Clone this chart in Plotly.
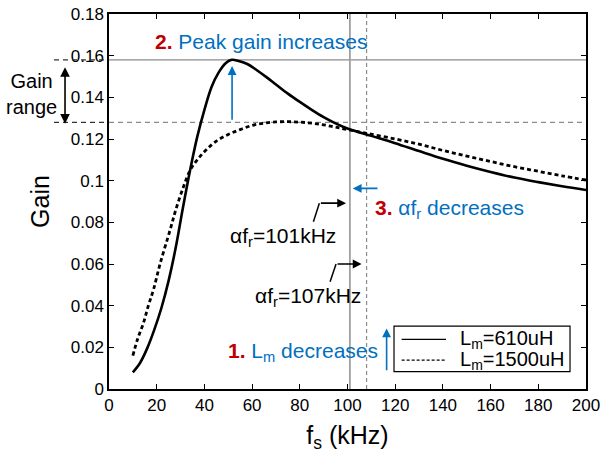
import plotly.graph_objects as go

# ---- data ----
fs_610 = [10, 13, 16, 19, 22, 25, 28, 31, 34, 37, 40, 43, 46, 49, 51.5, 54, 58, 62, 66, 70,
          75, 80, 85, 90, 95, 100, 110, 120, 130, 140, 150, 160, 170, 180, 190, 200]
gain_610 = [0.008, 0.0125, 0.0195, 0.0285, 0.039, 0.052, 0.068, 0.087, 0.105, 0.121, 0.134,
            0.145, 0.152, 0.1565, 0.158, 0.1576, 0.156, 0.153, 0.1497, 0.1462, 0.1418,
            0.1378, 0.134, 0.1305, 0.1275, 0.125, 0.1215, 0.118, 0.1142, 0.1105, 0.1072,
            0.1042, 0.1015, 0.0993, 0.0973, 0.0955]
fs_1500 = [10, 12, 14.4, 16.5, 18.6, 21.4, 25.6, 28, 31.2, 34, 37, 40.7, 45, 50, 55, 60, 65,
           70, 75, 80, 85, 90, 95, 100, 108, 120, 130, 140, 150, 160, 170, 180, 190, 200]
gain_1500 = [0.016, 0.024, 0.0315, 0.040, 0.0475, 0.060, 0.0763, 0.086, 0.097, 0.105, 0.110,
             0.1147, 0.119, 0.1222, 0.1245, 0.1265, 0.1276, 0.1282, 0.1283, 0.1281, 0.1276,
             0.1268, 0.1257, 0.1245, 0.1227, 0.1200, 0.1175, 0.1145, 0.1118, 0.1092, 0.1067,
             0.1045, 0.1023, 0.1003]
series_names = ["L<sub>m</sub>=610uH", "L<sub>m</sub>=1500uH"]
peak_gains = [0.158, 0.128]
alpha_fr = [101, 108]
alpha_fr_labels = ["αf<sub>r</sub>=101kHz", "αf<sub>r</sub>=107kHz"]
x_ticks = list(range(0, 201, 20))
y_ticks = [0, 0.02, 0.04, 0.06, 0.08, 0.1, 0.12, 0.14, 0.16, 0.18]
y_tick_text = ["0", "0.02", "0.04", "0.06", "0.08", "0.1", "0.12", "0.14", "0.16", "0.18"]

FONT = "Liberation Sans, Arial, sans-serif"
BLUE = "#0070C0"
RED = "#C00000"
GREY = "#8c8c8c"

fig = go.Figure()
fig.add_trace(go.Scatter(x=fs_610, y=gain_610, mode="lines", line=dict(color="black", width=2.6, shape="spline"),
                         name=series_names[0], showlegend=False))
fig.add_trace(go.Scatter(x=fs_1500, y=gain_1500, mode="lines",
                         line=dict(color="black", width=2.8, dash="4px,3px", shape="spline"),
                         name=series_names[1], showlegend=False))

shapes = []
# reference lines inside plot
shapes.append(dict(type="line", xref="x", yref="y", x0=0, x1=200, y0=peak_gains[0], y1=peak_gains[0],
                   line=dict(color=GREY, width=1.3), layer="below"))
shapes.append(dict(type="line", xref="x", yref="y", x0=0, x1=200, y0=peak_gains[1], y1=peak_gains[1],
                   line=dict(color=GREY, width=1.3, dash="5px,4px"), layer="below"))
shapes.append(dict(type="line", xref="x", yref="y", x0=alpha_fr[0], x1=alpha_fr[0], y0=0, y1=0.18,
                   line=dict(color="#a0a0a0", width=1.8), layer="below"))
shapes.append(dict(type="line", xref="x", yref="y", x0=alpha_fr[1], x1=alpha_fr[1], y0=0, y1=0.18,
                   line=dict(color=GREY, width=1.2, dash="4px,3px"), layer="below"))
# gain range dashes outside
for g in peak_gains:
    shapes.append(dict(type="line", xref="paper", yref="y", x0=-0.1153, x1=-0.0084, y0=g, y1=g,
                       line=dict(color="#333333", width=1.3, dash="5px,4px")))
# elbow connectors
shapes.append(dict(type="line", xref="x", yref="y", x0=85.7, x1=88.2, y0=0.0803, y1=0.0892,
                   line=dict(color="black", width=1.5)))
shapes.append(dict(type="line", xref="x", yref="y", x0=92.7, x1=95.2, y0=0.0515, y1=0.060,
                   line=dict(color="black", width=1.5)))
# legend box
shapes.append(dict(type="rect", xref="x", yref="y", x0=119.5, x1=193.3, y0=0.0083, y1=0.0302,
                   line=dict(color="black", width=1.2), fillcolor="white"))
shapes.append(dict(type="line", xref="x", yref="y", x0=122.7, x1=141.3, y0=0.0238, y1=0.0238,
                   line=dict(color="black", width=1.2)))
shapes.append(dict(type="line", xref="x", yref="y", x0=122.7, x1=141.3, y0=0.0139, y1=0.0139,
                   line=dict(color="black", width=1.2, dash="3px,2px")))

ann = []
def arrow(x, y, ax, ay, color, side="end"):
    ann.append(dict(x=x, y=y, ax=ax, ay=ay, xref="x", yref="y", axref="x",
                    ayref="y", text="", showarrow=True, arrowhead=2, arrowsize=1.1,
                    arrowwidth=1.6, arrowcolor=color, arrowside=side))

arrow(51.6, 0.155, 51.6, 0.1285, BLUE)
arrow(102.2, 0.0963, 113.2, 0.0963, BLUE)
arrow(116.4, 0.0291, 116.4, 0.0083, BLUE)
arrow(99.4, 0.0892, 88.2, 0.0892, "black")
arrow(105.9, 0.060, 95.2, 0.060, "black")
# gain range double arrow
ann.append(dict(x=-0.0922, xref="paper", y=0.1545, yref="y", ax=0, ay=58, axref="pixel", ayref="pixel",
                text="", showarrow=True, arrowhead=2, arrowsize=1.2,
                arrowwidth=1.6, arrowcolor="black", arrowside="end+start"))

def text(x, y, t, color="black", size=21, xanchor="left", xref="x"):
    ann.append(dict(x=x, y=y, xref=xref, yref="y", text=t, showarrow=False, xanchor=xanchor,
                    yanchor="middle", font=dict(family=FONT, size=size, color=color)))

text(18.4, 0.1666, f"<b><span style='color:{RED}'>2.</span></b> Peak gain increases", BLUE)
text(110.7, 0.0864, f"<b><span style='color:{RED}'>3.</span></b> αf<sub>r</sub> decreases", BLUE)
text(49.1, 0.0178, f"<b><span style='color:{RED}'>1.</span></b> L<sub>m</sub> decreases", BLUE)
text(49.9, 0.073, alpha_fr_labels[0])
text(60.5, 0.0443, alpha_fr_labels[1])
text(146.3, 0.0238, series_names[0], size=20)
text(146.3, 0.0139, series_names[1], size=20)
text(-0.1635, 0.1415, "Gain<br>range", xanchor="center", xref="paper", size=20)

fig.update_layout(
    width=604, height=457,
    margin=dict(l=109, r=18, t=14, b=68),
    paper_bgcolor="white", plot_bgcolor="white",
    font=dict(family=FONT, size=17, color="black"),
    shapes=shapes, annotations=ann, showlegend=False,
)
fig.update_xaxes(range=[0, 200], tickvals=x_ticks, ticks="inside", ticklen=5, tickcolor="black",
                 showline=True, linecolor="black", linewidth=1.5, mirror="ticks", showgrid=False,
                 zeroline=False, tickfont=dict(size=17), automargin=False,
                 title=dict(text="f<sub>s</sub> (kHz)", font=dict(size=25), standoff=12))
fig.update_yaxes(range=[0, 0.18], tickvals=y_ticks, ticktext=y_tick_text, ticks="inside", ticklen=5,
                 tickcolor="black", showline=True, linecolor="black", linewidth=1.5, mirror="ticks",
                 showgrid=False, zeroline=False, tickfont=dict(size=17), automargin=False,
                 title=dict(text="Gain", font=dict(size=25), standoff=14))

fig.write_html("out.html")
